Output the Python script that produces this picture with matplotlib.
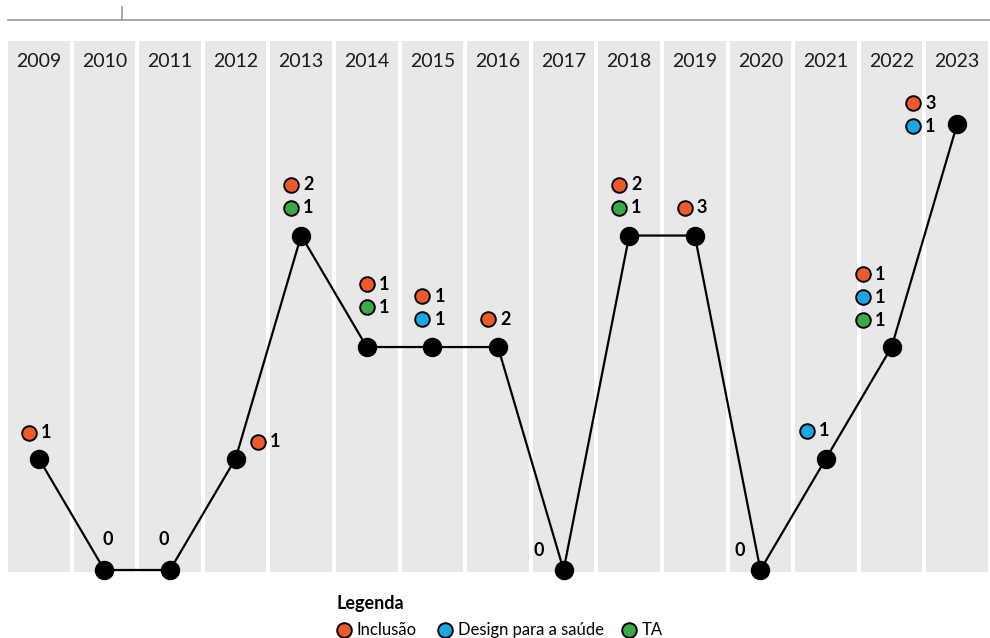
import matplotlib
matplotlib.use("Agg")
import matplotlib.pyplot as plt
import matplotlib.transforms as mtransforms
from matplotlib.lines import Line2D
import numpy as np

plt.rcParams['font.family'] = ['Lato', 'DejaVu Sans']

# dados
anos = ['2009', '2010', '2011', '2012', '2013', '2014', '2015', '2016',
        '2017', '2018', '2019', '2020', '2021', '2022', '2023']
total = [1, 0, 0, 1, 3, 2, 2, 2, 0, 3, 3, 0, 1, 2, 4]
inclusao = [1, 0, 0, 1, 2, 1, 1, 2, 0, 2, 3, 0, 0, 1, 3]
design = [0, 0, 0, 0, 0, 0, 1, 0, 0, 0, 0, 0, 1, 1, 1]
ta = [0, 0, 0, 0, 1, 1, 0, 0, 0, 1, 0, 0, 0, 1, 0]

cores = {'Inclusão': '#F05A28', 'Design para a saúde': '#1AA7E6', 'TA': '#3AAA48'}
series = [('Inclusão', inclusao), ('Design para a saúde', design), ('TA', ta)]

# deslocamento (px) do primeiro marcador em relação ao ponto
offsets = {0: (-10, 26), 1: (3, 30), 2: (-6, 30), 3: (22, 17), 5: (0, 40),
           8: (-25, 19), 11: (-21, 19), 12: (-19, 28), 13: (-29, 27),
           14: (-44, -2)}
passo = 23

W, H = 990, 638
fig = plt.figure(figsize=(W / 100, H / 100), dpi=100)
ax = fig.add_axes([6 / W, (H - 572) / H, 984 / W, 531 / H])

x = np.arange(len(anos))
ax.set_xlim(-0.5, len(anos) - 0.5)
ax.set_ylim(-0.018, 4.745)
ax.axis('off')

ax.bar(x, 4.745 + 0.018, bottom=-0.018, width=0.94, color='#E8E8E8', zorder=0)
for i, a in enumerate(anos):
    ax.text(i, 4.56, a, ha='center', va='center', fontsize=14, color='#1a1a1a')

ax.plot(x, total, color='black', lw=1.6, zorder=2, clip_on=False)
ax.plot(x, total, 'o', color='black', ms=13, zorder=3, clip_on=False)

for i in range(len(anos)):
    dx, dy = offsets.get(i, (-10, 28))
    itens = [(nome, v[i]) for nome, v in series if v[i] > 0]
    if not itens:
        tr = mtransforms.offset_copy(ax.transData, fig, x=dx, y=dy, units='dots')
        ax.text(i, total[i], '0', transform=tr, ha='center', va='center',
                fontsize=13, fontweight='bold')
        continue
    n = len(itens)
    for k, (nome, v) in enumerate(itens):
        yy = dy + (n - 1 - k) * passo
        tr = mtransforms.offset_copy(ax.transData, fig, x=dx, y=yy, units='dots')
        ax.plot(i, total[i], 'o', ms=10.5, mfc=cores[nome], mec='black', mew=1.4,
                transform=tr, clip_on=False, zorder=4)
        tr2 = mtransforms.offset_copy(ax.transData, fig, x=dx + 12, y=yy, units='dots')
        ax.text(i, total[i], str(v), transform=tr2, ha='left', va='center',
                fontsize=13, fontweight='bold')

# linha superior
fig.add_artist(Line2D([8 / W, 990 / W], [1 - 20 / H, 1 - 20 / H], color='#9A9A9A', lw=1.2))
fig.add_artist(Line2D([122 / W, 122 / W], [1 - 7 / H, 1 - 20 / H], color='#9A9A9A', lw=1.2))

# legenda
fig.text(336 / W, 1 - 604 / H, 'Legenda', fontsize=13, fontweight='bold', va='center')
leg_x = [(344, 'Inclusão'), (445, 'Design para a saúde'), (629, 'TA')]
for px, nome in leg_x:
    fig.add_artist(Line2D([px / W], [1 - 630 / H], marker='o', ms=10.5,
                          mfc=cores[nome], mec='black', mew=1.4))
    fig.text((px + 13) / W, 1 - 630 / H, nome, fontsize=12, va='center')

fig.savefig('out.png', dpi=100)
